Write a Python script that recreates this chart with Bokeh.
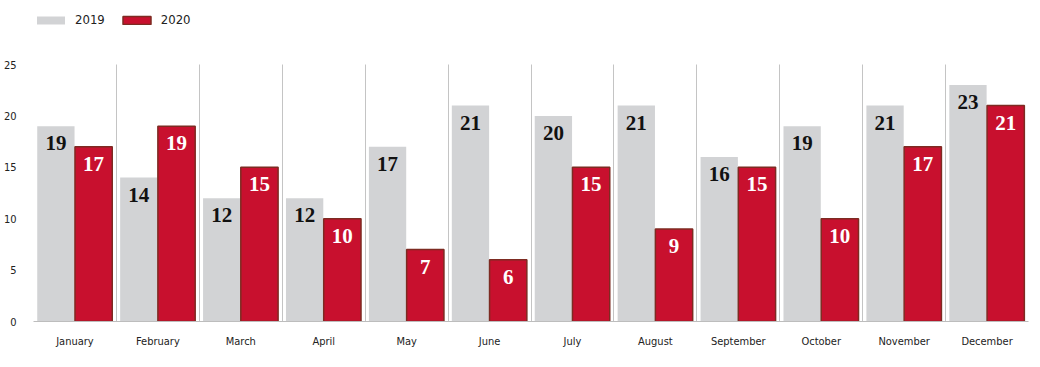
from bokeh.plotting import figure
from bokeh.models import ColumnDataSource, FixedTicker, Legend, LegendItem
from bokeh.core.properties import value
from bokeh.embed import file_html
from bokeh.resources import INLINE
import numpy as np

months = ["January", "February", "March", "April", "May", "June", "July",
          "August", "September", "October", "November", "December"]
v2019 = [19, 14, 12, 12, 17, 21, 20, 21, 16, 19, 21, 23]
v2020 = [17, 19, 15, 10, 7, 6, 15, 9, 15, 10, 17, 21]
y_ticks = [0, 5, 10, 15, 20, 25]

GRAY = "#d2d3d5"
RED = "#c8102e"
EDGE = "#7d2b22"
TICK_FONT = "DejaVu Sans Condensed"

Y_MAX = 25
# extra headroom (in px) above the 25 line for the legend
y_end = Y_MAX * (1 + 52 / 257)

xc = np.arange(len(months)) + 0.5
src = ColumnDataSource(dict(
    x19=xc - 0.23, x20=xc + 0.225,
    v19=v2019, v20=v2020,
    t19=[str(v) for v in v2019], t20=[str(v) for v in v2020],
))

p = figure(width=1032, height=350, x_range=(0, 12), y_range=(0, y_end),
           output_backend="svg", toolbar_location=None,
           min_border_left=33, min_border_right=4, min_border_top=12,
           min_border_bottom=0)
p.outline_line_color = None

r19 = p.vbar(x="x19", top="v19", width=0.45, source=src, fill_color=GRAY,
             line_color=None)
r20 = p.vbar(x="x20", top="v20", width=0.45, source=src, fill_color=RED,
             line_color=EDGE, line_width=1.5)

p.text(x="x19", y="v19", text="t19", source=src, text_align="center",
       text_baseline="middle", y_offset=17, text_color="#111111",
       text_font=value("Liberation Serif"), text_font_style="bold",
       text_font_size="21px")
p.text(x="x20", y="v20", text="t20", source=src, text_align="center",
       text_baseline="middle", y_offset=17, text_color="white",
       text_font=value("Liberation Serif"), text_font_style="bold",
       text_font_size="21px")

# axes
p.xaxis.ticker = FixedTicker(ticks=list(xc))
p.xaxis.major_label_overrides = {float(x): m for x, m in zip(xc, months)}
p.xaxis.major_tick_line_color = None
p.xaxis.minor_tick_line_color = None
p.xaxis.axis_line_color = "#bdbdbd"
p.xaxis.major_label_text_font = TICK_FONT
p.xaxis.major_label_text_font_size = "11px"
p.xaxis.major_label_text_color = "#222222"
p.xaxis.major_label_standoff = 7

p.yaxis.ticker = FixedTicker(ticks=y_ticks)
p.yaxis.major_tick_line_color = None
p.yaxis.minor_tick_line_color = None
p.yaxis.axis_line_color = None
p.yaxis.major_label_text_font = TICK_FONT
p.yaxis.major_label_text_font_size = "11px"
p.yaxis.major_label_text_color = "#222222"
p.yaxis.major_label_standoff = 11

p.ygrid.grid_line_color = None
p.xgrid.ticker = FixedTicker(ticks=list(range(len(months) + 1)))
p.xgrid.cross_bounds = (0, Y_MAX)
p.xgrid.grid_line_color = "#c4c4c4"
p.xgrid.grid_line_width = 1

legend = Legend(items=[LegendItem(label="2019", renderers=[r19]),
                       LegendItem(label="2020", renderers=[r20])],
                orientation="horizontal", location="top_left",
                glyph_width=35, glyph_height=10, label_standoff=7,
                spacing=14, padding=0, margin=0,
                label_text_font=TICK_FONT, label_text_font_size="13px",
                label_text_color="#222222", border_line_color=None,
                background_fill_alpha=0)
p.add_layout(legend)

open("out.html", "w").write(file_html(p, INLINE))
